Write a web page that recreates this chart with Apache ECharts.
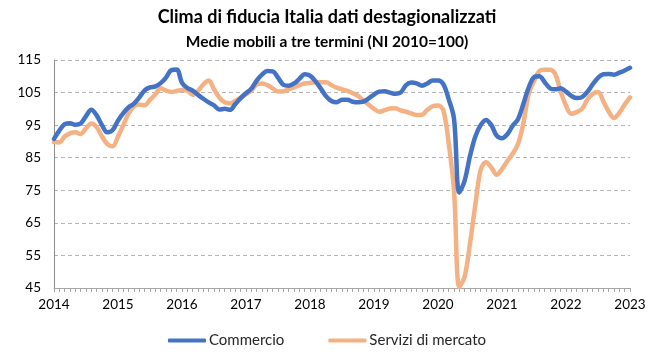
<!DOCTYPE html>
<html>
<head>
<meta charset="utf-8">
<script src="https://cdn.jsdelivr.net/npm/echarts@6/dist/echarts.min.js"></script>
<style>
  html, body { margin: 0; padding: 0; background: #ffffff; }
  #chart { width: 654px; height: 358px; }
</style>
</head>
<body>
<div id="chart"></div>
<script>
// Monthly three-term moving averages, Jan 2014 - Jan 2023 (2010 = 100)
const years = ['2014','2015','2016','2017','2018','2019','2020','2021','2022','2023'];

const commercio = [
  90.8, 93.3, 95.3, 95.6, 95.1, 95.5, 97.8, 99.7, 98.0, 95.0, 92.8, 93.5,
  96.4, 98.7, 100.5, 101.6, 103.5, 105.7, 106.6, 106.9, 107.9, 109.6, 111.9, 112.1,
  108.0, 106.4, 105.6, 104.3, 103.1, 102.0, 101.1, 99.8, 100.0, 99.7, 101.5, 103.3,
  104.8, 106.2, 108.7, 110.5, 111.6, 111.5, 109.6, 107.4, 107.1, 107.8, 109.2, 110.6,
  110.2, 108.5, 106.3, 103.9, 102.4, 102.0, 102.8, 102.8, 102.2, 102.0, 102.2, 103.2,
  104.4, 105.3, 105.4, 105.0, 104.6, 105.0, 107.3, 108.1, 107.8, 107.1, 107.8, 108.7,
  108.7, 107.6, 103.0, 97.0, 74.3, 78.0, 85.5, 91.5, 95.0, 96.6, 95.0, 91.8,
  91.0, 92.2, 94.8, 96.8, 101.5, 106.5, 109.7, 110.0, 108.2, 106.3, 106.0, 106.3,
  105.3, 104.0, 103.3, 103.6, 105.2, 107.5, 109.5, 110.6, 110.7, 110.5, 111.1, 111.8,
  112.6
];

const serviziDiMercato = [
  89.8, 89.7, 91.5, 92.5, 92.8, 92.3, 94.0, 95.5, 94.4, 91.5, 89.2, 88.5,
  91.5, 95.0, 98.6, 100.8, 101.3, 101.1, 102.8, 104.4, 106.3, 105.6, 105.2, 105.5,
  105.8, 105.6, 104.3, 105.5, 107.5, 108.7, 106.0, 103.5, 102.0, 101.7, 102.5, 103.4,
  104.5, 105.6, 107.5, 107.8, 107.3, 106.3, 105.3, 105.4, 106.0, 106.6, 107.3, 107.8,
  108.0, 108.1, 108.2, 108.2, 107.3, 106.5, 106.0, 105.5, 104.8, 104.0, 102.6, 101.3,
  100.0, 99.1, 99.6, 100.1, 100.2, 99.5, 99.1, 98.6, 98.1, 98.2, 99.7, 100.8,
  101.0, 99.5, 89.5, 75.0, 45.3, 48.5, 58.7, 70.5, 81.3, 83.6, 82.0, 79.8,
  81.5, 84.0, 86.2, 89.2, 95.5, 104.6, 108.5, 111.6, 112.0, 112.0, 110.6, 105.3,
  101.0, 98.5, 99.0, 100.0, 102.8, 104.6, 105.2, 102.3, 99.2, 97.2, 98.8, 101.3,
  103.5
];

// One category per month; only January carries the year label
const months = [];
for (let i = 0; i < commercio.length; i++) {
  const y = years[Math.floor(i / 12)];
  const m = String(i % 12 + 1).padStart(2, '0');
  months.push(y + '-' + m);
}

const FONT = 'Lato, "Open Sans", sans-serif';
const chart = echarts.init(document.getElementById('chart'), null, { renderer: 'canvas' });

chart.setOption({
  backgroundColor: '#ffffff',
  animation: false,
  title: [
    {
      text: 'Clima di fiducia Italia dati destagionalizzati',
      left: 'center', top: 3,
      textStyle: { fontFamily: FONT, fontSize: 18, fontWeight: 'bold', color: '#000000' }
    },
    {
      text: 'Medie mobili a tre termini (NI 2010=100)',
      left: 'center', top: 29,
      textStyle: { fontFamily: FONT, fontSize: 15.5, fontWeight: 'bold', color: '#000000' }
    }
  ],
  legend: {
    bottom: 5,
    left: 'center',
    itemWidth: 38,
    itemHeight: 4,
    itemGap: 44,
    icon: 'roundRect',
    textStyle: { fontFamily: FONT, fontSize: 15, color: '#262626', padding: [0, 0, 0, -2] },
    data: ['Commercio', 'Servizi di mercato']
  },
  grid: { left: 54, right: 24, top: 60, bottom: 70, containLabel: false },
  xAxis: {
    type: 'category',
    data: months,
    boundaryGap: false,
    axisLine: { show: true, lineStyle: { color: '#a6a6a6', width: 1 } },
    axisTick: {
      show: true, interval: 0, length: 4, inside: false,
      lineStyle: { color: '#a6a6a6', width: 1 }
    },
    axisLabel: {
      interval: function (idx) { return idx % 12 === 0; },
      formatter: function (v) { return v.slice(0, 4); },
      fontFamily: FONT, fontSize: 13.5, color: '#000000', margin: 10,
      showMaxLabel: true
    },
    splitLine: { show: false }
  },
  yAxis: {
    type: 'value',
    min: 45, max: 115, interval: 10,
    axisLine: { show: true, lineStyle: { color: '#8c8c8c', width: 1 } },
    axisTick: { show: false },
    axisLabel: { fontFamily: FONT, fontSize: 13.5, color: '#000000', margin: 13 },
    splitLine: { show: true, lineStyle: { color: '#b4b4b4', width: 1, type: [4, 3] } }
  },
  series: [
    {
      name: 'Commercio',
      type: 'line',
      data: commercio,
      smooth: 0.35,
      symbol: 'none',
      lineStyle: { color: '#4472C4', width: 4.5, cap: 'round', join: 'round' },
      itemStyle: { color: '#4472C4' },
      z: 3
    },
    {
      name: 'Servizi di mercato',
      type: 'line',
      data: serviziDiMercato,
      smooth: 0.35,
      symbol: 'none',
      lineStyle: { color: '#F4B183', width: 4.5, cap: 'round', join: 'round' },
      itemStyle: { color: '#F4B183' },
      z: 2
    }
  ]
});
</script>
</body>
</html>
